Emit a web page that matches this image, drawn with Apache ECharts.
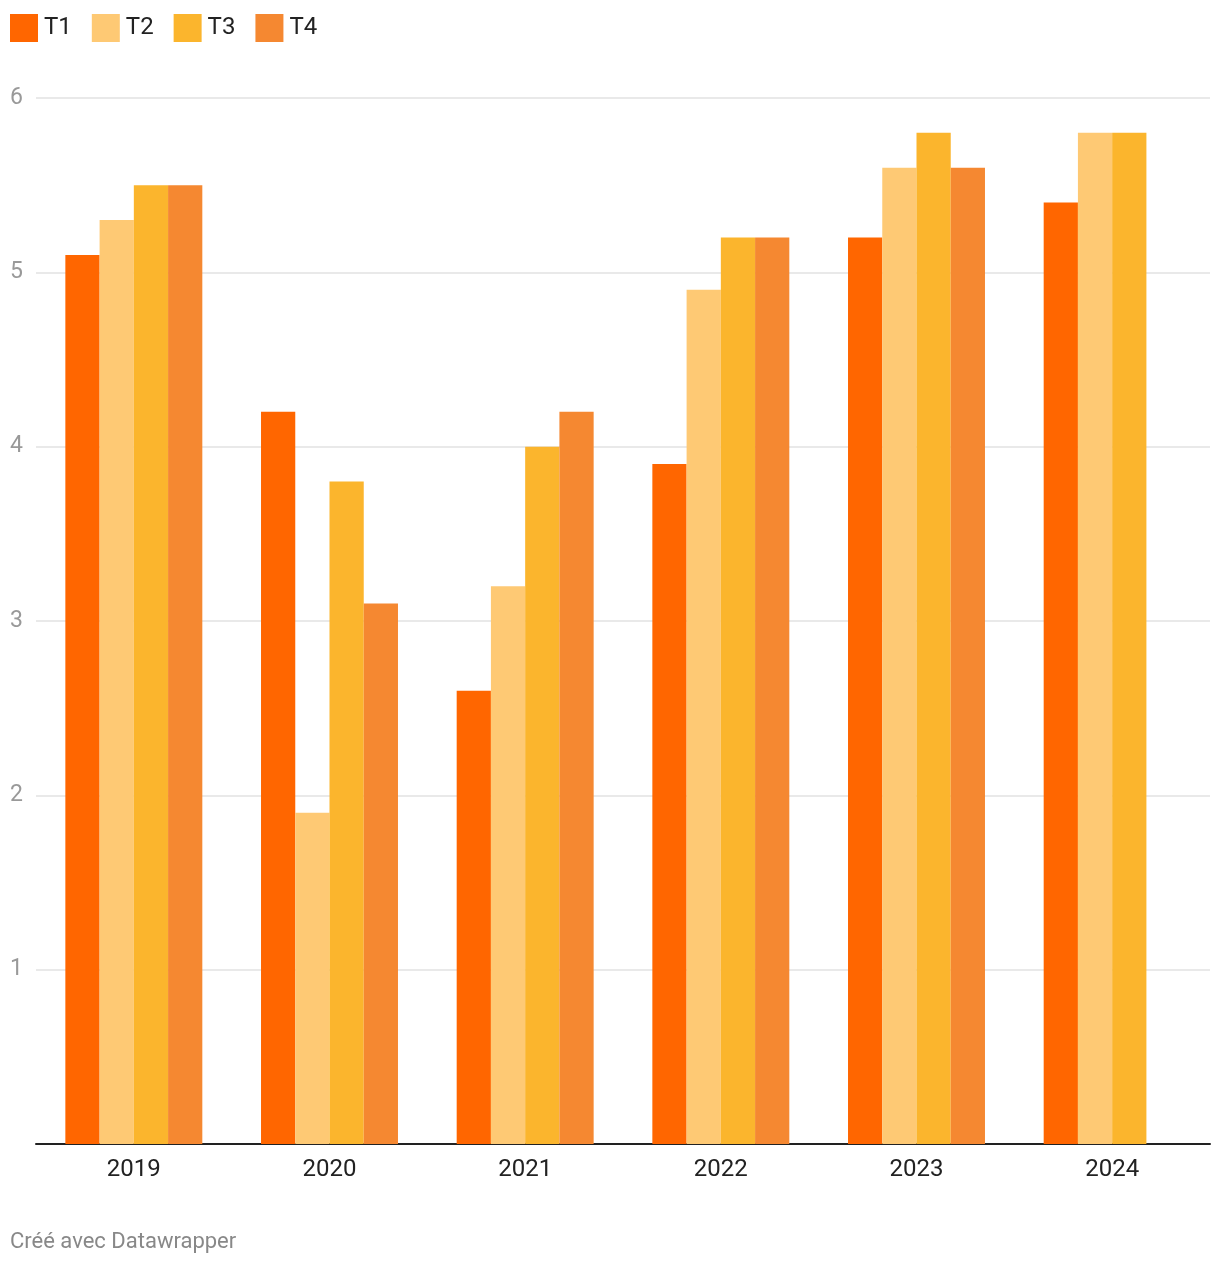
<!DOCTYPE html>
<html>
<head>
<meta charset="utf-8">
<script src="https://cdn.jsdelivr.net/npm/echarts@6/dist/echarts.min.js"></script>
<style>
html,body{margin:0;padding:0;background:#fff;}
#c{width:1220px;height:1266px;}
</style>
</head>
<body>
<div id="c"></div>
<script>
const categories = ['2019','2020','2021','2022','2023','2024'];
const seriesNames = ['T1','T2','T3','T4'];
const T1 = [5.1, 4.2, 2.6, 3.9, 5.2, 5.4];
const T2 = [5.3, 1.9, 3.2, 4.9, 5.6, 5.8];
const T3 = [5.5, 3.8, 4.0, 5.2, 5.8, 5.8];
const T4 = [5.5, 3.1, 4.2, 5.2, 5.6, null];
const yTicks = [0, 1, 2, 3, 4, 5, 6];
const colors = ['#ff6600', '#fec974', '#fbb52d', '#f58831'];
const values = [T1, T2, T3, T4];

const chart = echarts.init(document.getElementById('c'), null, {renderer: 'canvas'});
chart.setOption({
  animation: false,
  textStyle: {fontFamily: 'Roboto'},
  legend: {
    left: 10, top: 14, padding: 0, itemWidth: 28, itemHeight: 28, itemGap: 20,
    icon: 'rect',
    textStyle: {fontSize: 24, color: '#222', fontFamily: 'Roboto', padding: [0,0,0,1]},
    data: seriesNames
  },
  graphic: [{
    type: 'text', left: 10, top: 1231,
    style: {text: 'Créé avec Datawrapper', fill: '#888', font: '22px Roboto'}
  }],
  grid: {left: 36, right: 10, top: 98, bottom: 122, containLabel: false},
  xAxis: {
    type: 'category', data: categories,
    axisLine: {lineStyle: {color: '#222', width: 2}},
    axisTick: {show: false},
    axisLabel: {fontSize: 24, color: '#222', margin: 14, fontFamily: 'Roboto'}
  },
  yAxis: {
    type: 'value', min: yTicks[0], max: yTicks[yTicks.length-1], interval: 1,
    axisLine: {show: false}, axisTick: {show: false},
    splitLine: {lineStyle: {color: '#e2e2e2', width: 1.5}},
    axisLabel: {
      align: 'left', margin: 26, fontSize: 23, color: '#999', fontFamily: 'Roboto',
      formatter: v => v === 0 ? '' : String(v)
    }
  },
  series: seriesNames.map((n, i) => ({
    name: n, type: 'bar', data: values[i],
    itemStyle: {color: colors[i]},
    barGap: '0%', barCategoryGap: '30%'
  }))
});
</script>
</body>
</html>
